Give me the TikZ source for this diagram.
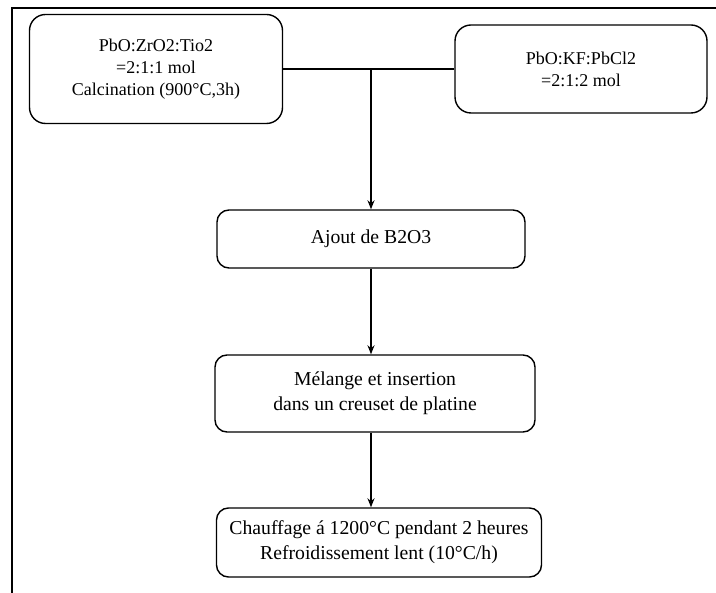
\documentclass[tikz,border=0pt]{standalone}
\usepackage{fontspec}
\setmainfont{Liberation Serif}
\usetikzlibrary{arrows.meta}

\tikzset{
  stage/.style={draw,line width=1.4pt,rounded corners=12pt,align=center,inner sep=0pt,font=\fontsize{19.7}{25}\selectfont},
  start/.style={stage,rounded corners=16pt,font=\fontsize{18}{22}\selectfont},
  link/.style={line width=1.4pt}
}

\begin{document}
\begin{tikzpicture}[x=1pt,y=-1pt,>={Stealth[length=9pt,width=7pt]}]
\clip (0,0) rectangle (716,593);
\draw[line width=2.2pt](12,8) rectangle (740,620);
\node[start,minimum width=253,minimum height=109](mixA) at (156,69){PbO:ZrO2:Tio2\\=2:1:1 mol\\Calcination (900°C,3h)};
\node[start,minimum width=252,minimum height=88](mixB) at (581,69){PbO:KF:PbCl2\\=2:1:2 mol};
\node[stage,minimum width=308,minimum height=58](ajout) at (371,239){Ajout de B2O3};
\node[stage,minimum width=320,minimum height=77](melange) at (375,393.5){Mélange et insertion\\dans un creuset de platine};
\node[stage,minimum width=325,minimum height=69](chauffe) at (379,542.5){Chauffage á 1200°C pendant 2 heures\\Refroidissement lent (10°C/h)};
\draw[link](mixA.east)--(mixB.west);
\draw[link,->](ajout.north |- mixA.east)--(ajout.north);
\draw[link,->](ajout.south)--(ajout.south |- melange.north);
\draw[link,->](ajout.south |- melange.south)--(ajout.south |- chauffe.north);
\end{tikzpicture}
\end{document}
